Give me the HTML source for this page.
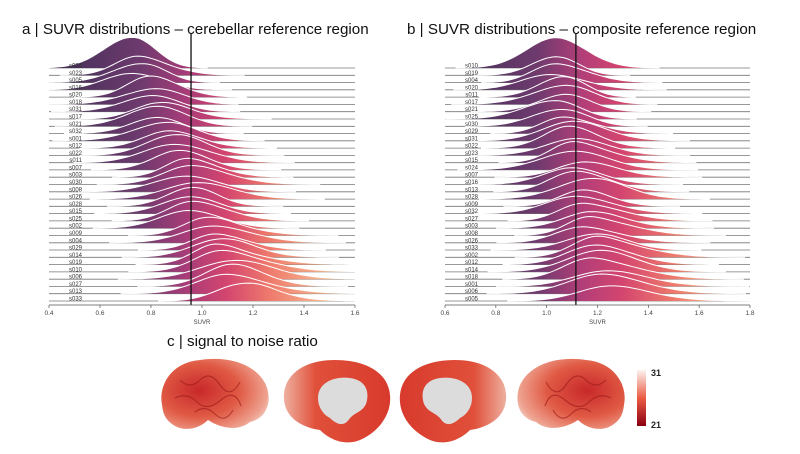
<!DOCTYPE html>
<html><head><meta charset="utf-8"><style>
html,body{margin:0;padding:0;background:#fff;}
svg{display:block;font-family:"Liberation Sans",sans-serif;}
</style></head><body>
<svg id="s" width="800" height="454" viewBox="0 0 800 454" xmlns="http://www.w3.org/2000/svg">
<defs>
<linearGradient id="ga" gradientUnits="userSpaceOnUse" x1="49" y1="0" x2="355" y2="0">
<stop offset="0" stop-color="#3e2f55"/><stop offset="0.3" stop-color="#6e3a6e"/><stop offset="0.45" stop-color="#a83c78"/><stop offset="0.58" stop-color="#d4456f"/><stop offset="0.72" stop-color="#ee7a6c"/><stop offset="0.9" stop-color="#f8b890"/><stop offset="1" stop-color="#fbd8a8"/>
</linearGradient>
<linearGradient id="gb" gradientUnits="userSpaceOnUse" x1="445" y1="0" x2="750" y2="0">
<stop offset="0" stop-color="#3e2f55"/><stop offset="0.3" stop-color="#6e3a6e"/><stop offset="0.45" stop-color="#b23e78"/><stop offset="0.58" stop-color="#d4456f"/><stop offset="0.75" stop-color="#ee7a6c"/><stop offset="0.92" stop-color="#f8b890"/><stop offset="1" stop-color="#fbd8a8"/>
</linearGradient>
<radialGradient id="br1" cx="0.35" cy="0.45" r="0.75"><stop offset="0" stop-color="#c8282a"/><stop offset="0.5" stop-color="#e05a44"/><stop offset="0.85" stop-color="#eea290"/><stop offset="1" stop-color="#f4ddd4"/></radialGradient>
<radialGradient id="br1r" cx="0.65" cy="0.45" r="0.75"><stop offset="0" stop-color="#c8282a"/><stop offset="0.5" stop-color="#e05a44"/><stop offset="0.85" stop-color="#eea290"/><stop offset="1" stop-color="#f4ddd4"/></radialGradient>
<linearGradient id="br2" x1="0" y1="0" x2="1" y2="0"><stop offset="0" stop-color="#eeb0a0"/><stop offset="0.3" stop-color="#e0503a"/><stop offset="1" stop-color="#d83a2c"/></linearGradient>
<linearGradient id="br3" x1="1" y1="0" x2="0" y2="0"><stop offset="0" stop-color="#eeb0a0"/><stop offset="0.3" stop-color="#e0503a"/><stop offset="1" stop-color="#d83a2c"/></linearGradient>
<linearGradient id="cb" x1="0" y1="0" x2="0" y2="1"><stop offset="0" stop-color="#fbf3f0"/><stop offset="0.5" stop-color="#ec5c44"/><stop offset="1" stop-color="#8a0010"/></linearGradient>
</defs>
<text x="22" y="34" font-size="15.2" fill="#111">a | SUVR distributions – cerebellar reference region</text>
<text x="407" y="34" font-size="15.2" fill="#111">b | SUVR distributions – composite reference region</text>
<text x="167" y="346" font-size="15.2" fill="#111">c | signal to noise ratio</text>
<g id="pa"></g><g id="pb"></g>
<path d="M162,405 C158,385 172,362 200,360 C225,356 255,362 266,385 C272,400 268,418 250,422 C238,432 220,428 208,420 C198,430 182,432 172,424 C164,418 163,412 162,405 Z" fill="url(#br1)"/>
<g fill="none" stroke="#9a1818" stroke-width="1.2" opacity="0.6"><path d="M180,380 q10,10 20,0 t20,5 t20,-3"/><path d="M175,398 q12,-6 22,4 t24,-2 t20,6"/><path d="M195,412 q10,-8 20,2 t18,-4"/></g>
<path d="M284,400 C282,378 300,360 335,360 C365,360 388,372 390,395 C392,415 378,432 360,440 C345,446 330,440 320,430 C305,428 286,420 284,400 Z" fill="url(#br2)"/>
<path d="M318,398 C318,382 335,376 350,378 C366,380 370,392 366,404 C362,412 356,412 350,418 C344,428 336,424 330,418 C322,414 318,406 318,398 Z" fill="#dcdcdc"/>
<path d="M506,400 C508,378 490,360 455,360 C425,360 402,372 400,395 C398,415 412,432 430,440 C445,446 460,440 470,430 C485,428 504,420 506,400 Z" fill="url(#br3)"/>
<path d="M472,398 C472,382 455,376 440,378 C424,380 420,392 424,404 C428,412 434,412 440,418 C446,428 454,424 460,418 C468,414 472,406 472,398 Z" fill="#dcdcdc"/>
<path d="M624,405 C628,385 614,362 586,360 C561,356 531,362 520,385 C514,400 518,418 536,422 C548,432 566,428 578,420 C588,430 604,432 614,424 C622,418 623,412 624,405 Z" fill="url(#br1r)"/>
<g fill="none" stroke="#9a1818" stroke-width="1.2" opacity="0.6"><path d="M606,380 q-10,10 -20,0 t-20,5 t-20,-3"/><path d="M611,398 q-12,-6 -22,4 t-24,-2 t-20,6"/><path d="M591,412 q-10,-8 -20,2 t-18,-4"/></g>
<rect x="637" y="370" width="9" height="56" fill="url(#cb)"/>
<text x="651" y="376" font-size="9" font-weight="bold" fill="#222">31</text>
<text x="651" y="428" font-size="9" font-weight="bold" fill="#222">21</text>
</svg>
<script>
function rnd(s){return function(){s=(s*9301+49297)%233280;return s/233280;}}
function panel(id,labels,x0,x1,v0,v1,grad,m0,m1,vline,ticks,seed){
 var g=document.getElementById(id),r=rnd(seed),h='';
 var n=labels.length,y0=68,dy=(301-68)/(n-1);
 var X=function(v){return x0+(v-v0)/(v1-v0)*(x1-x0);};
 for(var i=0;i<n;i++){
  var by=y0+i*dy,mu=m0+(m1-m0)*i/(n-1)+(r()-0.5)*0.06;
  var sdL=0.09+r()*0.05, sdR=0.08+r()*0.05+0.06*i/n, amp=(i==0?28:14+r()*6);
  var mu2=mu+(r()-0.5)*0.16,w2=0.2+r()*0.3;
  var pts=[],lo=Math.max(v0,mu-3.3*sdL),hi=Math.min(v1,mu+3.3*sdR);
  for(var k=0;k<=50;k++){var v=lo+(hi-lo)*k/50;
   var s=v<mu?sdL:sdR;
   var d=Math.exp(-0.5*Math.pow((v-mu)/s,2))+w2*Math.exp(-0.5*Math.pow((v-mu2)/(sdL*0.8),2));
   d/=(1+w2*0.6);
   pts.push(X(v).toFixed(1)+','+(by-amp*d).toFixed(1));}
  h+='<line x1="'+x0+'" y1="'+by.toFixed(1)+'" x2="'+x1+'" y2="'+by.toFixed(1)+'" stroke="#777" stroke-width="0.8"/>';
  h+='<polygon points="'+X(lo).toFixed(1)+','+by.toFixed(1)+' '+pts.join(' ')+' '+X(hi).toFixed(1)+','+by.toFixed(1)+'" fill="url(#'+grad+')"/>';
  h+='<polyline points="'+pts.join(' ')+'" fill="none" stroke="#fff" stroke-width="1"/>';
  h+='<text x="'+(x0+33)+'" y="'+(by-0.5).toFixed(1)+'" font-size="6" text-anchor="end" fill="#333">'+labels[i]+'</text>';
 }
 h+='<line x1="'+X(vline)+'" y1="33" x2="'+X(vline)+'" y2="305" stroke="#111" stroke-width="1.3"/>';
 h+='<line x1="'+x0+'" y1="305" x2="'+x1+'" y2="305" stroke="#555" stroke-width="0.7"/>';
 ticks.forEach(function(t){var x=X(t);h+='<line x1="'+x+'" y1="305" x2="'+x+'" y2="308" stroke="#555" stroke-width="0.7"/><text x="'+x+'" y="315" font-size="6.5" text-anchor="middle" fill="#444">'+t.toFixed(1)+'</text>';});
 h+='<text x="'+((x0+x1)/2)+'" y="324" font-size="6" text-anchor="middle" fill="#444">SUVR</text>';
 g.innerHTML=h;
}
panel('pa','s024 s023 s005 s016 s020 s018 s031 s017 s021 s032 s001 s012 s022 s011 s007 s003 s030 s008 s026 s028 s015 s025 s002 s009 s004 s029 s014 s019 s010 s006 s027 s013 s033'.split(' '),49,355,0.4,1.6,'ga',0.74,1.12,0.957,[0.4,0.6,0.8,1.0,1.2,1.4,1.6],7);
panel('pb','s010 s019 s004 s020 s011 s017 s021 s025 s030 s029 s031 s022 s023 s015 s024 s007 s016 s013 s028 s009 s032 s027 s003 s008 s026 s033 s002 s012 s014 s018 s001 s006 s005'.split(' '),445,750,0.6,1.8,'gb',1.02,1.25,1.115,[0.6,0.8,1.0,1.2,1.4,1.6,1.8],13);
</script>
</body></html>
